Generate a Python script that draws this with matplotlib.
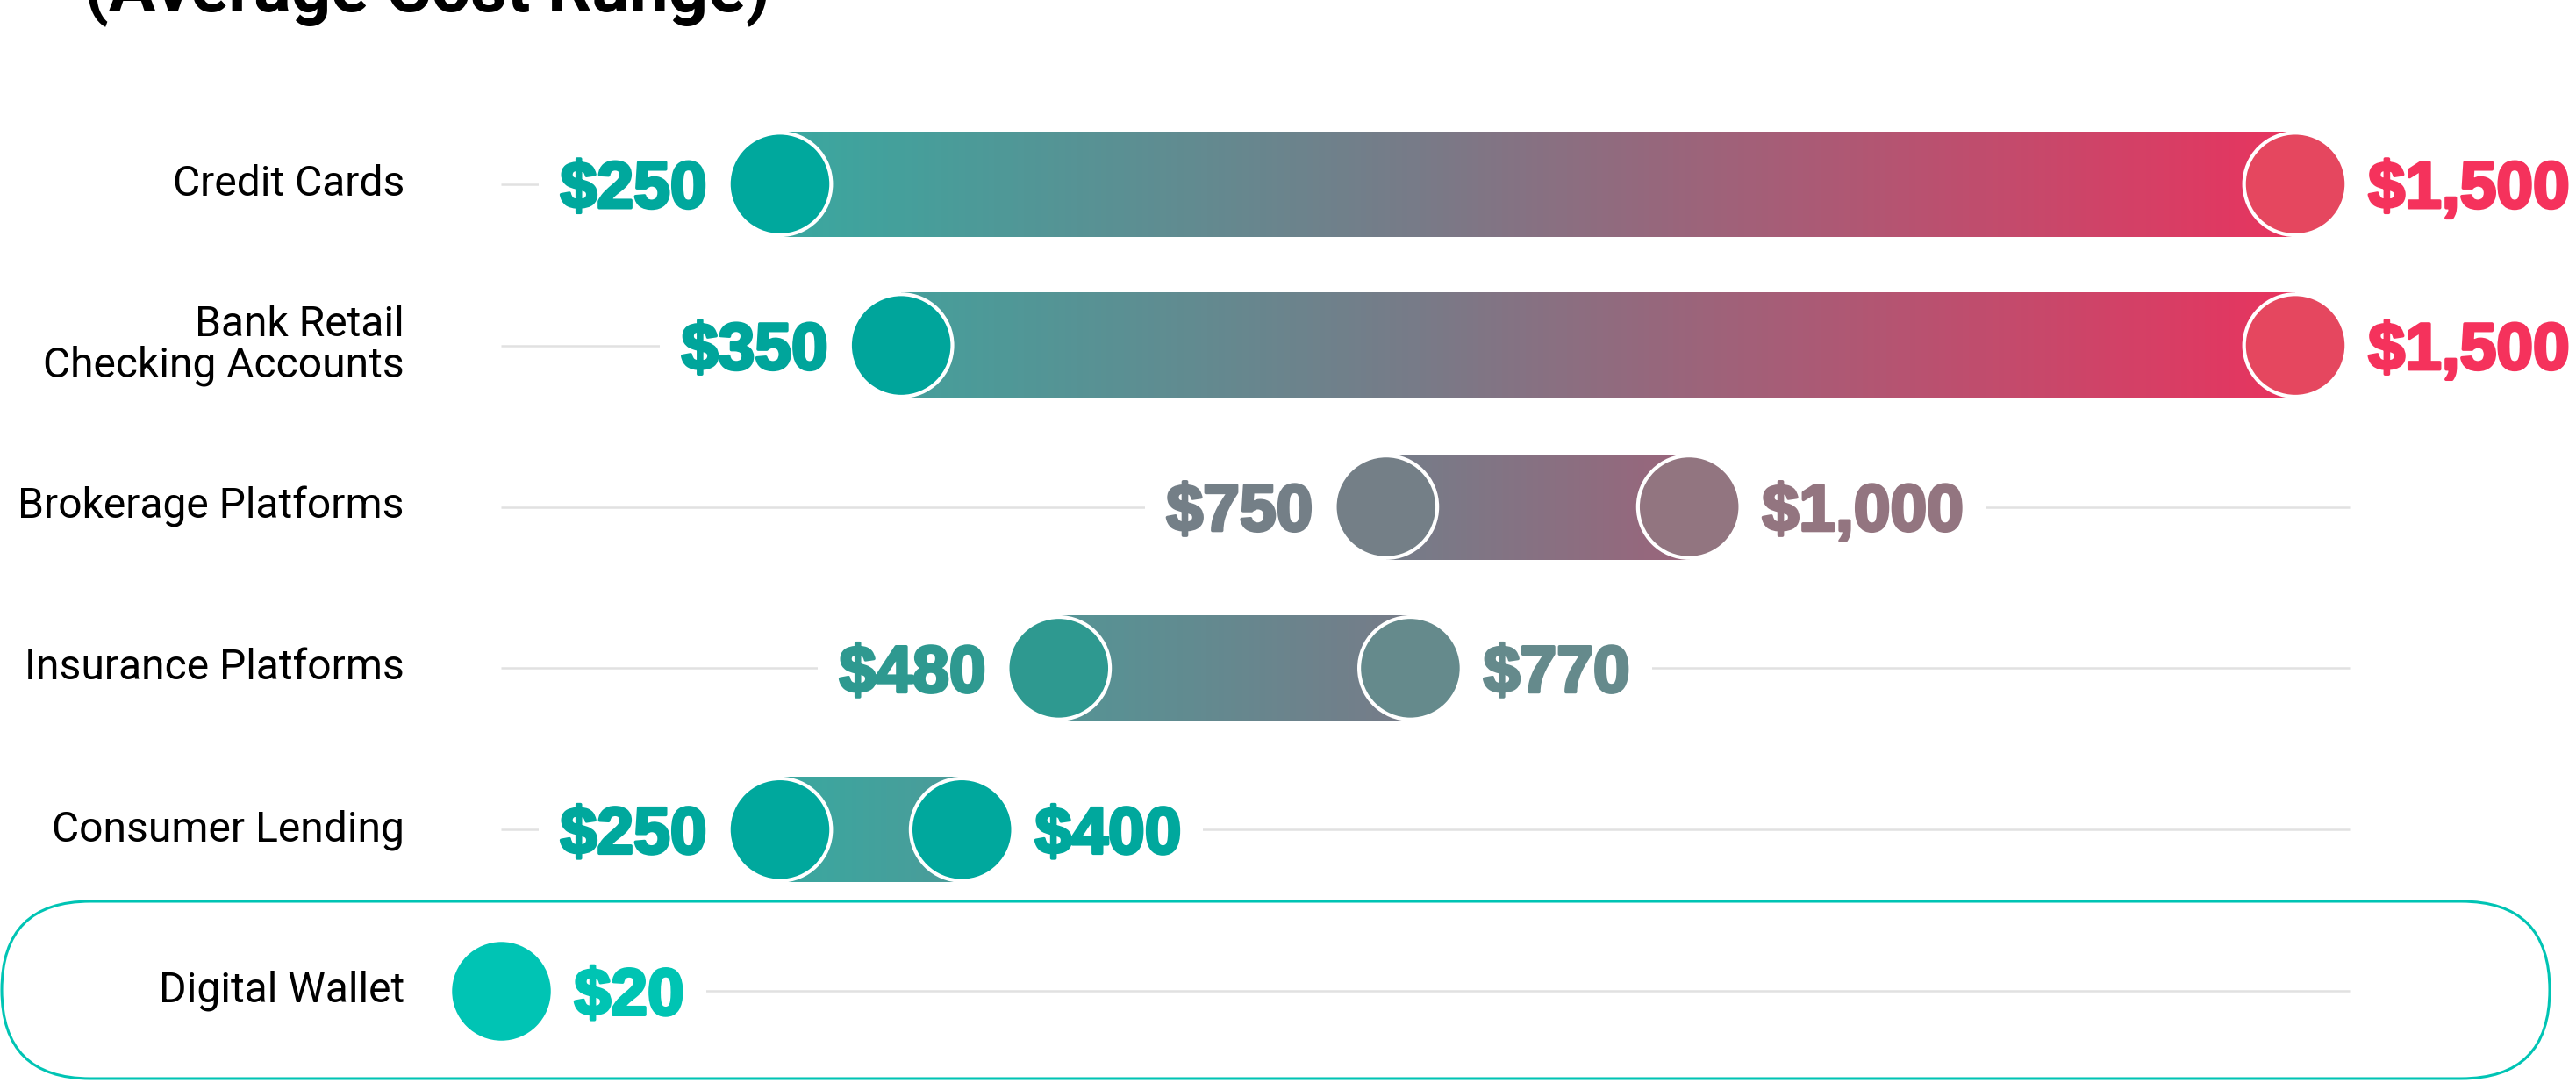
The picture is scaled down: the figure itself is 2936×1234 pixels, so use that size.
import matplotlib
matplotlib.use("Agg")
import matplotlib.pyplot as plt
import matplotlib.patheffects as pe
import numpy as np
from matplotlib.colors import LinearSegmentedColormap, Normalize
from matplotlib.patches import FancyBboxPatch

# cost ranges (USD) per product
categories = ["Credit Cards", "Bank Retail\nChecking Accounts", "Brokerage Platforms",
              "Insurance Platforms", "Consumer Lending", "Digital Wallet"]
low = [250, 350, 750, 480, 250, 20]
high = [1500, 1500, 1000, 770, 400, 20]

# dot / label colours
lo_dot = ["#00A89D", "#00A59B", "#747F87", "#2E9990", "#00A89D", "#00C4B4"]
hi_dot = ["#E5475F", "#E5475F", "#927580", "#658A8C", "#00A89D", "#00C4B4"]
lo_txt = ["#00A89D", "#00A59B", "#747F87", "#2E9990", "#00A89D", "#00C4B3"]
hi_txt = ["#F5325C", "#F5325C", "#937580", "#658A8C", "#00A89D", "#00C4B3"]

bar_cmap = LinearSegmentedColormap.from_list(
    "fee", [(0.0, "#3AA8A0"), (0.42, "#787B88"), (1.0, "#E8345F")])
bar_norm = Normalize(250, 1500)

W, H, DPI = 2936, 1234, 200
fig = plt.figure(figsize=(W / DPI, H / DPI), dpi=DPI)
ax = fig.add_axes([0, 0, 1, 1])
ax.set_axis_off()

# pixel layout -> data limits
px_per_usd = 1.3816
x_zero = 543.6
row_gap, row0 = 183.9, 209.7
bar_h = 120 / row_gap


def value_label(x, y, s, color, side):
    off = -30 if side == "left" else 30
    ax.annotate(s, (x, y), xytext=(off, 0), textcoords="offset points",
                ha="right" if side == "left" else "left", va="center_baseline",
                fontsize=27, fontweight="bold", family="Liberation Sans",
                color=color, zorder=2,
                path_effects=[pe.withStroke(linewidth=1.3, foreground=color)],
                bbox=dict(facecolor="white", edgecolor="none", pad=9))


for i, (lo, hi) in enumerate(zip(low, high)):
    # faint guide line
    ax.plot([20, 1545], [i, i], color="#E1E1E1", lw=0.9, zorder=1,
            solid_capstyle="butt")
    if hi > lo:
        # gradient bar
        xs = np.linspace(lo, hi, 400)
        ax.imshow(bar_norm(xs)[None, :], cmap=bar_cmap, vmin=0, vmax=1,
                  extent=[lo, hi, i + bar_h / 2, i - bar_h / 2],
                  aspect="auto", interpolation="bilinear", zorder=3)
        ax.scatter([lo, hi], [i, i], s=1764, c=[lo_dot[i], hi_dot[i]],
                   edgecolors="white", linewidths=1.5, zorder=4)
        value_label(lo, i, f"${lo:,}", lo_txt[i], "left")
    else:
        ax.scatter([lo], [i], s=1764, c=[lo_dot[i]],
                   edgecolors="white", linewidths=1.5, zorder=4)
    value_label(hi, i, f"${hi:,}", hi_txt[i], "right")
    ax.text(461 / W, i, categories[i], transform=ax.get_yaxis_transform(),
            ha="right", va="center", fontsize=17.3, family="Roboto",
            multialignment="right", linespacing=1.0)

ax.set_xlim(-x_zero / px_per_usd, (W - x_zero) / px_per_usd)
ax.set_ylim((H - row0) / row_gap, -row0 / row_gap)

# highlight box round the last row
box = FancyBboxPatch((2 / DPI, 5 / DPI), 2904 / DPI, 202 / DPI,
                     boxstyle=f"round,pad=0,rounding_size={101 / DPI}",
                     transform=fig.dpi_scale_trans, facecolor="none",
                     edgecolor="#00C4B4", lw=1.1, zorder=0)
fig.patches.append(box)

# title runs off the top of the canvas, as in the original
fig.text(96 / W, 1 - 12 / H, "(Average Cost Range)", ha="left", va="baseline",
         fontsize=28.6, fontweight="bold", family="Roboto")

fig.savefig("out.png", dpi=DPI)
